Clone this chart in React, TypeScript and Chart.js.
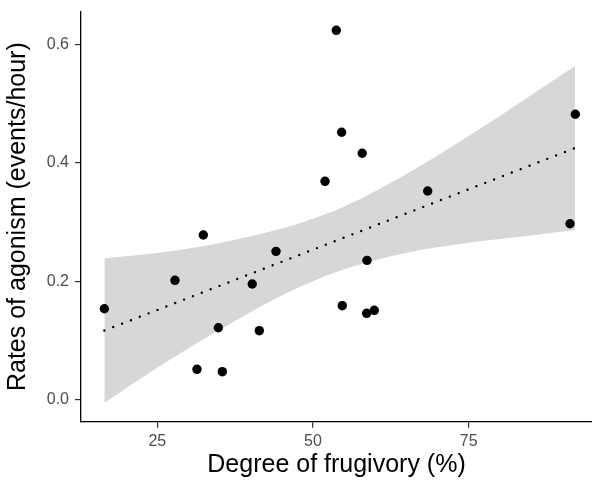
import React, { useEffect, useRef } from "react";
import { Chart, registerables } from "chart.js";

Chart.register(...registerables);

const frugivory = [16.5, 27.84, 32.39, 31.37, 34.8, 35.44, 40.25, 41.38, 44.06, 51.93, 53.74, 54.6, 54.7, 57.9, 58.67, 58.62, 59.84, 68.42, 91.27, 92.12];
const agonism = [0.1536, 0.2015, 0.278, 0.0513, 0.1215, 0.0473, 0.1953, 0.1165, 0.2504, 0.3686, 0.6234, 0.4513, 0.1587, 0.4159, 0.2352, 0.1458, 0.1509, 0.3522, 0.297, 0.4817];

const fitX = [16.5, 92.1];
const fitY = [0.1168, 0.4248];

const bandX = [16.5, 25, 35, 45, 50, 55, 65, 75, 85, 92.1];
const bandUpper = [0.2387, 0.2475, 0.2645, 0.289, 0.3055, 0.326, 0.381, 0.445, 0.514, 0.5632];
const bandLower = [-0.0051, 0.054, 0.118, 0.176, 0.2, 0.22, 0.248, 0.265, 0.277, 0.2864];

const xTicks = [25, 50, 75];
const yTicks = [0, 0.2, 0.4, 0.6];

const xTitle = "Degree of frugivory (%)";
const yTitle = "Rates of agonism (events/hour)";

const FONT = "'Liberation Sans', Arial, sans-serif";

export default function App() {
  const ref = useRef<HTMLCanvasElement | null>(null);

  useEffect(() => {
    if (!ref.current) return;
    const chart = new Chart(ref.current, {
      type: "line",
      data: {
        datasets: [
          {
            label: "points",
            data: frugivory.map((x, i) => ({ x, y: agonism[i] })),
            showLine: false,
            pointRadius: 4.7,
            pointBackgroundColor: "#000",
            pointBorderWidth: 0,
            order: 0,
          },
          {
            label: "fit",
            data: fitX.map((x, i) => ({ x, y: fitY[i] })),
            borderColor: "#000",
            borderWidth: 2.4,
            borderDash: [0, 9.5],
            borderCapStyle: "round",
            pointRadius: 0,
            fill: false,
            order: 1,
          },
          {
            label: "upper",
            data: bandX.map((x, i) => ({ x, y: bandUpper[i] })),
            borderWidth: 0,
            borderColor: "rgba(0,0,0,0)",
            backgroundColor: "#d7d7d7",
            pointRadius: 0,
            cubicInterpolationMode: "monotone",
            fill: 3,
            order: 2,
          },
          {
            label: "lower",
            data: bandX.map((x, i) => ({ x, y: bandLower[i] })),
            borderWidth: 0,
            borderColor: "rgba(0,0,0,0)",
            pointRadius: 0,
            cubicInterpolationMode: "monotone",
            fill: false,
            order: 3,
          },
        ],
      },
      options: {
        animation: false,
        responsive: false,
        layout: { autoPadding: false, padding: { top: 11.6, left: 0, right: 0, bottom: 0 } },
        plugins: { legend: { display: false }, tooltip: { enabled: false } },
        scales: {
          x: {
            type: "linear",
            min: 12.75,
            max: 94.8,
            afterBuildTicks: (scale: any) => {
              scale.ticks = xTicks.map((v) => ({ value: v }));
            },
            afterFit: (scale: any) => {
              scale.height = 58.3;
              scale.paddingLeft = 0;
              scale.paddingRight = 0;
            },
            grid: { drawOnChartArea: false, drawTicks: true, tickLength: 6, color: "#333", lineWidth: 1.2 },
            border: { display: true, color: "#000", width: 1.3 },
            ticks: { font: { family: FONT, size: 16 }, color: "#4d4d4d", padding: 4, maxRotation: 0 },
            title: { display: true, text: xTitle, font: { family: FONT, size: 25 }, color: "#000", padding: { top: 0, bottom: 0 } },
          },
          y: {
            type: "linear",
            min: -0.0371,
            max: 0.655,
            afterBuildTicks: (scale: any) => {
              scale.ticks = yTicks.map((v) => ({ value: v }));
            },
            afterFit: (scale: any) => {
              scale.width = 81;
              scale.paddingTop = 0;
              scale.paddingBottom = 0;
            },
            grid: { drawOnChartArea: false, drawTicks: true, tickLength: 6, color: "#333", lineWidth: 1.2 },
            border: { display: true, color: "#000", width: 1.3 },
            ticks: {
              font: { family: FONT, size: 16 },
              color: "#4d4d4d",
              padding: 6,
              callback: (v: any) => Number(v).toFixed(1),
            },
            title: { display: true, text: yTitle, font: { family: FONT, size: 25 }, color: "#000", padding: { top: 3, bottom: 0 } },
          },
        },
      },
    } as any);
    return () => chart.destroy();
  }, []);

  return (
    <div style={{ position: "absolute", left: 0, top: 0, width: 592, height: 480, background: "#fff", overflow: "hidden" }}>
      <canvas ref={ref} width={592} height={480} style={{ display: "block" }} />
    </div>
  );
}
